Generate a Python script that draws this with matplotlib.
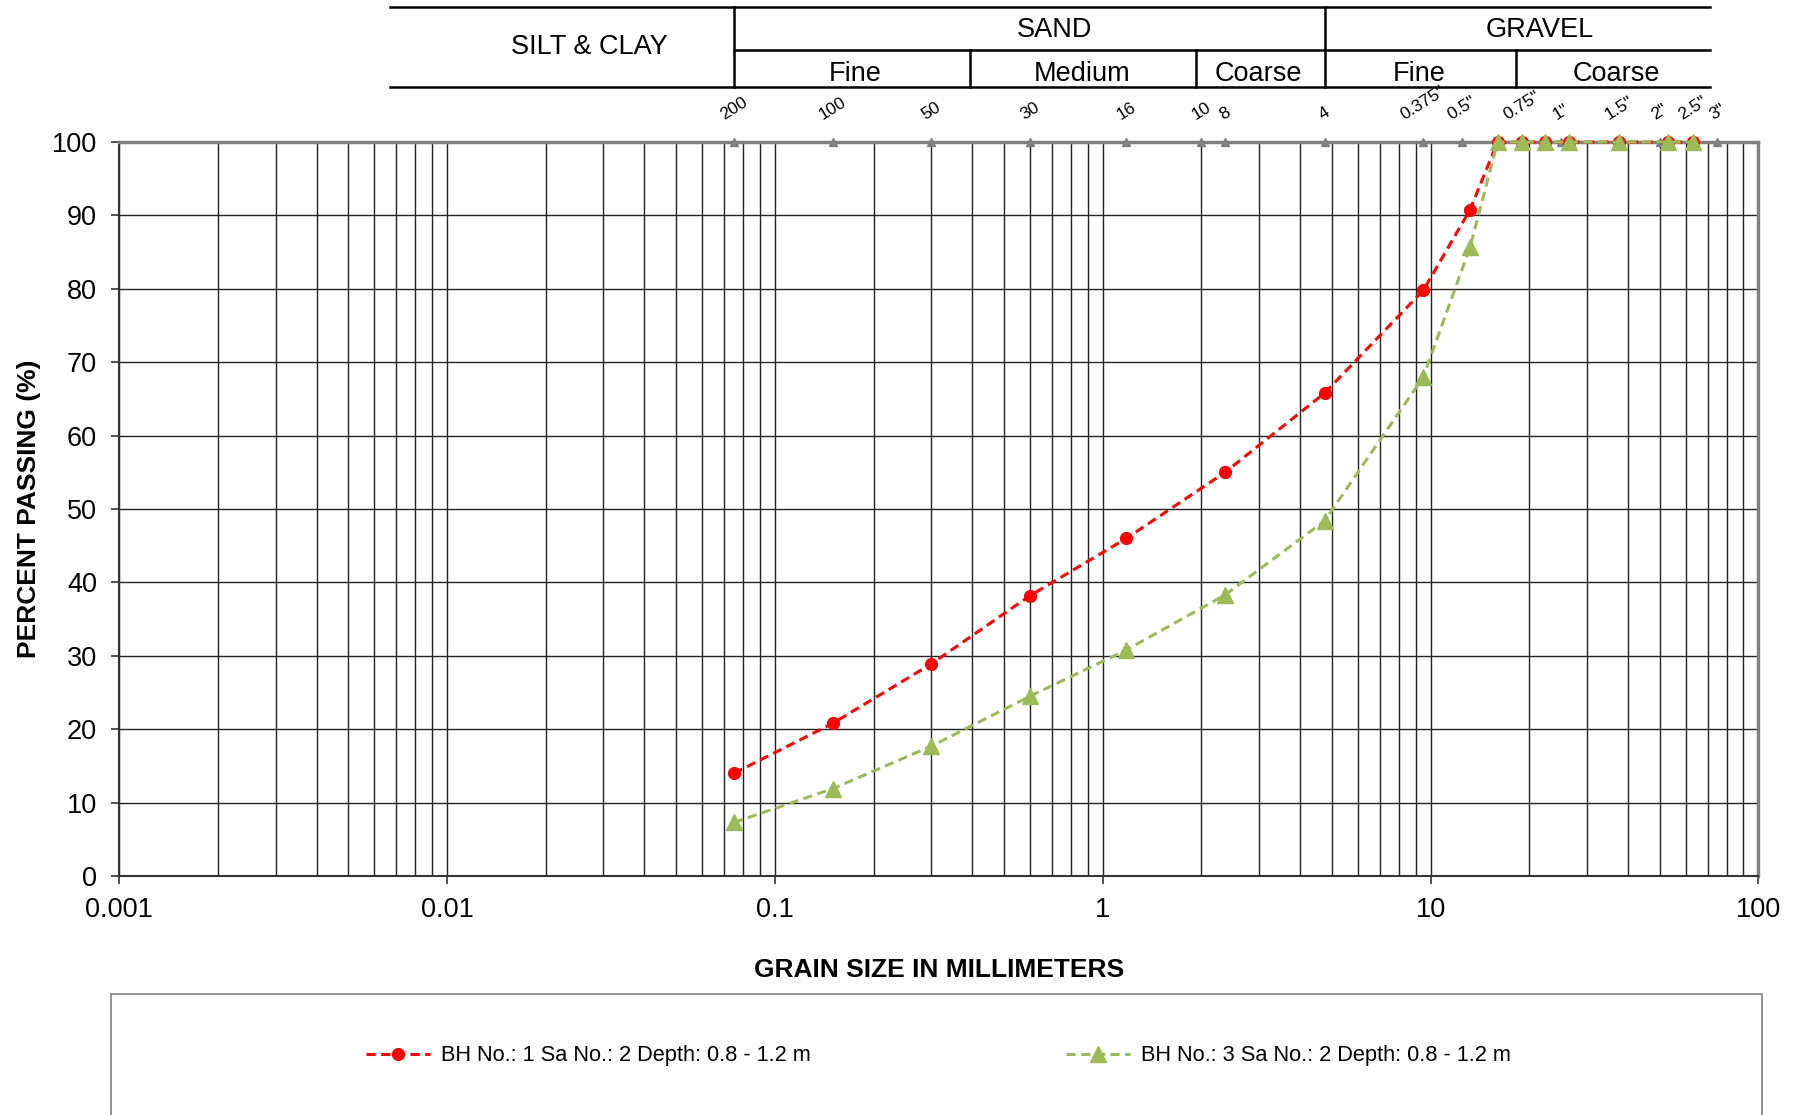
import numpy as np
import matplotlib
matplotlib.use('Agg')
import matplotlib.pyplot as plt
import matplotlib.transforms as mtransforms
from matplotlib.patches import Rectangle

plt.rcParams['font.family'] = ['Liberation Sans', 'DejaVu Sans']

# grain size distribution (mm, % passing)
sieve_mm = [0.075, 0.15, 0.3, 0.6, 1.18, 2.36, 4.75, 9.5, 13.2, 16, 19, 22.4, 26.5, 37.5, 53, 63]
bh1_pass = [14.0, 20.8, 28.9, 38.2, 46.0, 55.0, 65.8, 79.8, 90.8, 100, 100, 100, 100, 100, 100, 100]
bh3_pass = [7.3, 11.9, 17.7, 24.5, 30.8, 38.3, 48.4, 68.0, 85.7, 100, 100, 100, 100, 100, 100, 100]
bh1_label = "BH No.: 1 Sa No.: 2 Depth: 0.8 - 1.2 m"
bh3_label = "BH No.: 3 Sa No.: 2 Depth: 0.8 - 1.2 m"

# standard sieves shown along the top
std_sieve_mm = [0.075, 0.15, 0.3, 0.6, 1.18, 2.0, 2.36, 4.75, 9.5, 12.5, 19, 25, 37.5, 50, 63, 75]
std_sieve_lbl = ['200', '100', '50', '30', '16', '10', '8', '4', '0.375"', '0.5"',
                 '0.75"', '1"', '1.5"', '2"', '2.5"', '3"']

# classification header: boundaries in mm and label positions
bounds_main = [0.075, 4.75, 71]
bounds_sub = [0.075, 0.395, 1.93, 4.75, 18.2, 71]
silt_left = 0.0067
main_names = ['SILT & CLAY', 'SAND', 'GRAVEL']
main_pos = [0.0272, 0.713, 21.5]
sub_names = ['Fine', 'Medium', 'Coarse', 'Fine', 'Coarse']
sub_pos = [0.176, 0.865, 2.99, 9.23, 36.8]

fig = plt.figure(figsize=(17.98, 11.15), dpi=100)
ax = fig.add_axes([0.0663, 0.2143, 0.9117, 0.6583])
ax.set_xscale('log')
ax.set_xlim(0.001, 100)
ax.set_ylim(0, 100)

# grid
ax.set_xticks([0.001, 0.01, 0.1, 1, 10, 100])
ax.set_xticklabels(['0.001', '0.01', '0.1', '1', '10', '100'])
ax.set_yticks(np.arange(0, 101, 10))
ax.grid(True, which='both', axis='x', color='#222222', linewidth=1.0)
ax.grid(True, which='major', axis='y', color='#222222', linewidth=1.0)
ax.tick_params(axis='x', which='major', length=6, width=1.2, color='#333333', labelsize=19.5, pad=9)
ax.tick_params(axis='x', which='minor', length=0)
ax.tick_params(axis='y', length=6, width=1.2, color='#333333', labelsize=19.5, pad=10)
for side in ['top', 'right']:
    ax.spines[side].set_color('#808080')
    ax.spines[side].set_linewidth(2.5)
for side in ['left', 'bottom']:
    ax.spines[side].set_color('#333333')
    ax.spines[side].set_linewidth(1.5)

# sieve markers on top
ax.plot(std_sieve_mm, [100] * len(std_sieve_mm), linestyle='none', marker='^',
        markersize=5.5, color='#808080', clip_on=False, zorder=3)
for x, lbl in zip(std_sieve_mm, std_sieve_lbl):
    ax.text(x, 102.6, lbl, rotation=32, ha='center', va='bottom', fontsize=12.5,
            color='black', clip_on=False)

# data
ax.plot(sieve_mm, bh1_pass, linestyle=(0, (3, 1.8)), linewidth=2.2, color='#FF0000',
        marker='o', markersize=8.5, label=bh1_label, clip_on=False, zorder=4)
ax.plot(sieve_mm, bh3_pass, linestyle=(0, (3, 1.8)), linewidth=2.2, color='#9BBB59',
        marker='^', markersize=11, label=bh3_label, clip_on=False, zorder=5)

ax.set_xlabel('GRAIN SIZE IN MILLIMETERS', fontsize=19, fontweight='bold', labelpad=25)
ax.set_ylabel('PERCENT PASSING (%)', fontsize=19, fontweight='bold', labelpad=8)

# classification header
tr = mtransforms.blended_transform_factory(ax.transData, ax.transAxes)
y_top, y_mid, y_bot = 1.184, 1.125, 1.075
hl = dict(color='black', linewidth=1.8, transform=tr, clip_on=False)
ax.plot([silt_left, bounds_main[-1]], [y_top, y_top], **hl)
ax.plot([bounds_main[0], bounds_main[-1]], [y_mid, y_mid], **hl)
ax.plot([silt_left, bounds_main[-1]], [y_bot, y_bot], **hl)
for b in bounds_main[:-1]:
    ax.plot([b, b], [y_bot, y_top], **hl)
for b in bounds_sub[1:-1]:
    if b not in bounds_main:
        ax.plot([b, b], [y_bot, y_mid], **hl)
ax.text(main_pos[0], (y_top + y_bot) / 2, main_names[0], transform=tr,
        ha='center', va='center', fontsize=19.5)
for x, name in zip(main_pos[1:], main_names[1:]):
    ax.text(x, (y_top + y_mid) / 2 - 0.002, name, transform=tr, ha='center', va='center', fontsize=19.5)
for x, name in zip(sub_pos, sub_names):
    ax.text(x, (y_mid + y_bot) / 2 - 0.007, name, transform=tr, ha='center', va='center', fontsize=19.5)

# legend box
fig.patches.append(Rectangle((0.0617, -0.05), 0.9183, 0.1585, transform=fig.transFigure,
                             fill=False, edgecolor='#808080', linewidth=1.2))
handles, labels = ax.get_legend_handles_labels()
fig.legend(handles, labels, loc='center', bbox_to_anchor=(0.522, 0.053), ncol=2,
           frameon=False, fontsize=15.7, handlelength=2.95, handletextpad=0.5,
           columnspacing=11.7)

fig.savefig('out.png', dpi=100)
